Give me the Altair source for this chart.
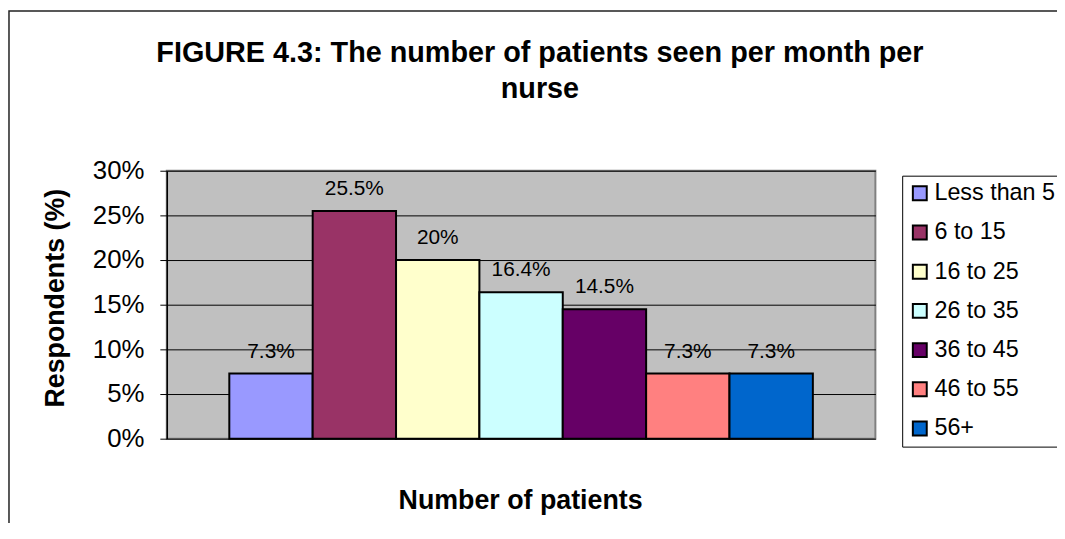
import altair as alt
import pandas as pd

categories = ["Less than 5", "6 to 15", "16 to 25", "26 to 35", "36 to 45", "46 to 55", "56+"]
values = [7.3, 25.5, 20.0, 16.4, 14.5, 7.3, 7.3]
labels = ["7.3%", "25.5%", "20%", "16.4%", "14.5%", "7.3%", "7.3%"]
colors = ["#9999FF", "#993366", "#FFFFCC", "#CCFFFF", "#660066", "#FF8080", "#0066CC"]
y_ticks = [0, 5, 10, 15, 20, 25, 30]
title_lines = ["FIGURE 4.3: The number of patients seen per month per", "nurse"]
x_title = "Number of patients"
y_title = "Respondents (%)"

df = pd.DataFrame({"group": categories, "pct": values, "label": labels})

FONT = "Liberation Sans"

x_enc = alt.X(
    "group:N",
    sort=categories,
    scale=alt.Scale(paddingInner=0, paddingOuter=0.75),
    axis=alt.Axis(
        title=x_title, labels=False, ticks=False, domain=False, grid=False,
        titleFont=FONT, titleFontSize=27, titleFontWeight="bold", titleColor="black",
        titleX=356, titleY=70, titleBaseline="alphabetic", titleAlign="center",
    ),
)
y_enc = alt.Y(
    "pct:Q",
    scale=alt.Scale(domain=[0, 30], nice=False),
    axis=alt.Axis(
        values=y_ticks, labelExpr="datum.value + '%'",
        title=y_title, titleFont=FONT, titleFontSize=27, titleFontWeight="bold",
        titleColor="black", titleAngle=270, titleX=-104, titleY=128,
        titleBaseline="alphabetic", titleAlign="center",
        grid=True, gridColor="black", gridWidth=1,
        tickSize=7, tickColor="black", tickWidth=1,
        domainColor="black", domainWidth=1.5,
        labelFont=FONT, labelFontSize=26, labelColor="black", labelPadding=16,
    ),
)

border = alt.Chart(alt.Data(values=[{}])).mark_rect(
    fill="transparent", stroke="#222222", strokeWidth=1.5
).encode(x=alt.value(-159), x2=alt.value(920), y=alt.value(-161), y2=alt.value(420))

bars = alt.Chart(df).mark_bar(stroke="black", strokeWidth=2).encode(
    x=x_enc,
    y=y_enc,
    color=alt.Color(
        "group:N",
        sort=categories,
        scale=alt.Scale(domain=categories, range=colors),
        legend=alt.Legend(
            title=None, orient="none", legendX=741, legendY=5,
            symbolType="square", symbolSize=196, symbolStrokeColor="black",
            symbolStrokeWidth=2, symbolOpacity=1,
            labelFont=FONT, labelFontSize=23.5, labelColor="black", labelOffset=3,
            rowPadding=14.5, padding=6, strokeColor="black", fillColor="white",
            labelLimit=300,
        ),
    ),
)

bar_labels = alt.Chart(df).mark_text(
    dy=-22, baseline="middle", font=FONT, fontSize=21, color="black"
).encode(x=x_enc, y=y_enc, text="label:N")

title_txt = alt.Chart(alt.Data(values=[{}])).mark_text(
    text=title_lines, font=FONT, fontSize=29, fontWeight="bold", color="black",
    align="center", baseline="alphabetic", lineHeight=37,
).encode(x=alt.value(376), y=alt.value(-110))

chart = alt.layer(border, bars, bar_labels, title_txt).properties(
    width=714,
    height=270,
    autosize=alt.AutoSizeParams(type="none"),
    padding={"left": 160, "top": 162, "right": 183, "bottom": 83},
).configure(background="white").configure_view(
    fill="#C0C0C0", stroke="#808080", strokeWidth=2
)

chart.save("out.html", embed_options={"renderer": "svg", "actions": False})
